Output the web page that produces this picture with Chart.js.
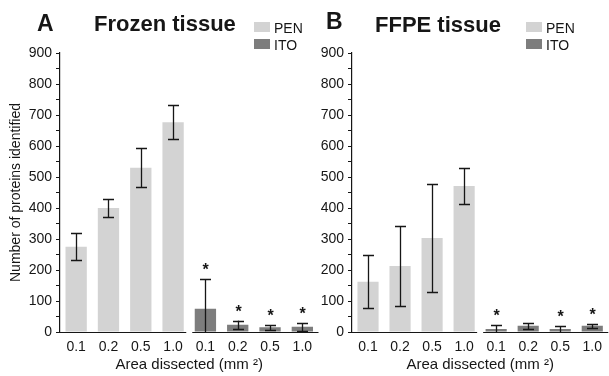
<!DOCTYPE html>
<html><head><meta charset="utf-8">
<script src="https://cdn.jsdelivr.net/npm/chart.js@4.4.0/dist/chart.umd.min.js"></script>
<style>
html,body{margin:0;padding:0;background:#fff;}
#wrap{position:relative;width:609px;height:376px;overflow:hidden;background:#fff;}
#cA{position:absolute;left:0;top:0;}
#cB{position:absolute;left:320px;top:0;}
</style></head><body>
<div id="wrap"><canvas id="cA" width="320" height="376"></canvas><canvas id="cB" width="289" height="376"></canvas></div>
<script>
// ---- data ----
const areas = ['0.1', '0.2', '0.5', '1.0'];
const seriesNames = ['PEN', 'ITO'];
const frozenPEN = [275, 400, 530, 677];
const frozenPENErr = [43, 30, 63, 55];
const frozenITO = [75, 23, 15, 17];
const frozenITOErr = [95, 14, 8, 13];
const frozenStars = [true, true, true, true];
const ffpePEN = [162, 213, 303, 471];
const ffpePENErr = [86, 128, 175, 59];
const ffpeITO = [10, 20, 10, 20];
const ffpeITOErr = [11, 10, 10, 7];
const ffpeStars = [true, false, true, true];
const yMin = 0, yMax = 900, yStep = 50, yLabelStep = 100;
const xTitle = 'Area dissected (mm \u00B2)';
const yTitle = 'Number of proteins identified';

const PEN_COLOR = '#d3d3d3';
const ITO_COLOR = '#7d7d7d';
const INK = '#161616';
const FONT = '"Liberation Sans", Arial, sans-serif';

Chart.defaults.font.family = FONT;
Chart.defaults.color = INK;

const pad4 = [null, null, null, null];

const decor = {
  id: 'decor',
  afterDatasetsDraw(chart, args, o) {
    const ctx = chart.ctx;
    const y = chart.scales.y, x = chart.scales.x;
    const ca = chart.chartArea;
    ctx.save();
    // baseline with a break between the two groups
    const xa = x.getPixelForValue(3), xb = x.getPixelForValue(4);
    const mid = (xa + xb) / 2;
    const by = Math.round(y.getPixelForValue(0)) + 0.5;
    ctx.strokeStyle = INK; ctx.lineWidth = 1.2;
    ctx.beginPath();
    ctx.moveTo(ca.left, by); ctx.lineTo(mid - 3, by);
    ctx.moveTo(mid + 3, by); ctx.lineTo(ca.right, by);
    ctx.stroke();
    // error bars and stars
    ctx.lineWidth = 1.3;
    chart.data.datasets.forEach((ds, di) => {
      const meta = chart.getDatasetMeta(di);
      const errs = o.errs[di];
      meta.data.forEach((el, j) => {
        const v = ds.data[j];
        if (v === null || v === undefined) return;
        const k = j % 4;
        const e = errs[k];
        const top = y.getPixelForValue(v + e);
        const lowV = v - e;
        const bot = y.getPixelForValue(Math.max(0, lowV));
        const cx = Math.round(el.x) + 0.5;
        ctx.beginPath();
        ctx.moveTo(cx, top); ctx.lineTo(cx, bot);
        ctx.moveTo(cx - 5.5, Math.round(top) + 0.5); ctx.lineTo(cx + 5.5, Math.round(top) + 0.5);
        if (lowV > 0) { ctx.moveTo(cx - 5.5, Math.round(bot) + 0.5); ctx.lineTo(cx + 5.5, Math.round(bot) + 0.5); }
        ctx.stroke();
        if (di === 1 && o.stars[k]) {
          ctx.fillStyle = INK;
          ctx.font = 'bold 16px ' + FONT;
          ctx.textAlign = 'center';
          ctx.textBaseline = 'alphabetic';
          ctx.fillText('*', cx, top - 4);
        }
      });
    });
    ctx.restore();
  },
  afterDraw(chart, args, o) {
    const ctx = chart.ctx;
    ctx.save();
    ctx.fillStyle = INK;
    ctx.textAlign = 'left';
    ctx.textBaseline = 'alphabetic';
    ctx.font = 'bold 23px ' + FONT;
    ctx.fillText(o.letter, o.letterX, o.letterY);
    ctx.font = 'bold 22px ' + FONT;
    ctx.fillText(o.title, o.titleX, o.titleY);
    ctx.font = '14px ' + FONT;
    chart.data.datasets.forEach((ds, i) => {
      const by = 22 + i * 17;
      ctx.fillStyle = ds.backgroundColor;
      ctx.fillRect(o.legendX, by, 16, 10);
      ctx.fillStyle = INK;
      ctx.fillText(ds.label, o.legendX + 20, by + 11);
    });
    ctx.restore();
  }
};

function makeChart(id, pen, itoVals, errs, stars, cfg) {
  return new Chart(document.getElementById(id), {
    type: 'bar',
    data: {
      labels: areas.concat(areas),
      datasets: [
        { label: seriesNames[0], data: pen.concat(pad4), backgroundColor: PEN_COLOR, skipNull: true,
          categoryPercentage: 1, barPercentage: 0.66 },
        { label: seriesNames[1], data: pad4.concat(itoVals), backgroundColor: ITO_COLOR, skipNull: true,
          categoryPercentage: 1, barPercentage: 0.66 }
      ]
    },
    options: {
      responsive: false,
      animation: false,
      devicePixelRatio: 1,
      layout: { padding: { top: 53, left: 0, right: cfg.padRight, bottom: 0 } },
      plugins: {
        legend: { display: false },
        tooltip: { enabled: false },
        decor: Object.assign({ errs: errs, stars: stars }, cfg.decor)
      },
      scales: {
        x: {
          grid: { display: false, drawTicks: false },
          border: { display: false },
          ticks: { font: { size: 14 }, padding: 7, color: INK, maxRotation: 0, autoSkip: false },
          title: { display: true, text: xTitle, font: { size: 15 }, color: INK, padding: { top: 0, bottom: 2 } },
          afterFit(s) { s.height = 44; }
        },
        y: {
          min: yMin, max: yMax,
          grid: { drawOnChartArea: false, drawTicks: true, tickLength: 4, color: INK, tickWidth: 1 },
          border: { display: true, color: INK, width: 1.2 },
          ticks: {
            stepSize: yStep, autoSkip: false, font: { size: 14 }, padding: 4, color: INK,
            callback: (v) => (v % yLabelStep === 0 ? String(v) : '')
          },
          title: { display: cfg.showYTitle, text: yTitle, font: { size: 14 }, color: INK, padding: { top: 8, bottom: 0 } },
          afterFit(s) { s.width = cfg.yWidth; }
        }
      }
    },
    plugins: [decor]
  });
}

makeChart('cA', frozenPEN, frozenITO, [frozenPENErr, frozenITOErr], frozenStars, {
  padRight: 1.5, yWidth: 60, showYTitle: true,
  decor: { letter: 'A', letterX: 37, letterY: 31, title: 'Frozen tissue', titleX: 94, titleY: 31, legendX: 254 }
});
makeChart('cB', ffpePEN, ffpeITO, [ffpePENErr, ffpeITOErr], ffpeStars, {
  padRight: 0, yWidth: 32, showYTitle: false,
  decor: { letter: 'B', letterX: 6, letterY: 28.5, title: 'FFPE tissue', titleX: 55, titleY: 31.5, legendX: 206 }
});
</script>
</body></html>
